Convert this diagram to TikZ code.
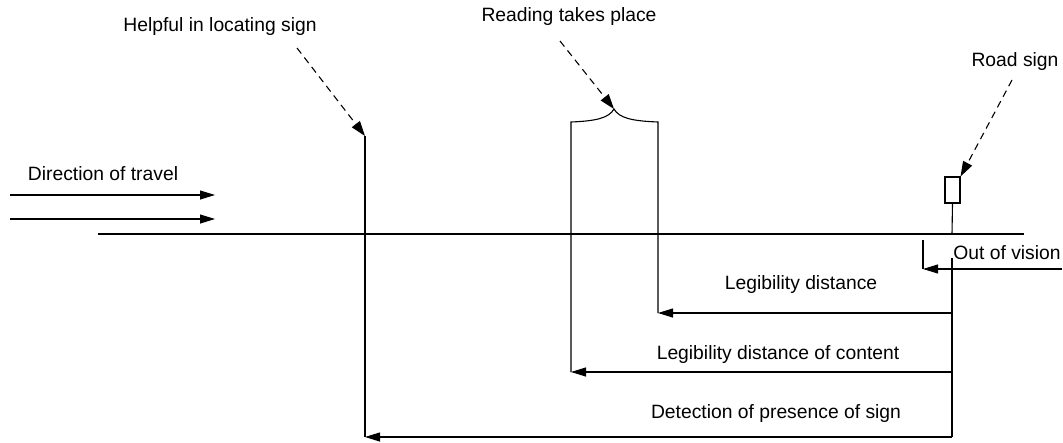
\documentclass[tikz,border=0pt]{standalone}
\usepackage{fontspec}
\setmainfont{Liberation Sans}
\usetikzlibrary{arrows.meta}
\begin{document}
\begin{tikzpicture}[x=1pt,y=-1pt,
  lbl/.style={inner sep=0pt,font=\fontsize{19.3}{23}\selectfont},
  ln/.style={line width=1.1pt,draw=black},
  arr/.style={ln,-{Triangle[length=15pt,width=9pt]}},
  darr/.style={ln,dash pattern=on 7pt off 5pt,-{Triangle[length=15pt,width=10pt]}}]
\useasboundingbox (0,0) rectangle (1063,442);
% labels
\node[lbl] (thelp) at (220,27) {Helpful in locating sign};
\node[lbl] (tread) at (569,17) {Reading takes place};
\node[lbl] (troad) at (1015,62) {Road sign};
\node[lbl] (tdir) at (103,174) {Direction of travel};
\node[lbl] (tout) at (1007,253) {Out of vision};
\node[lbl] (tleg) at (801,285) {Legibility distance};
\node[lbl] (tcont) at (778,355) {Legibility distance of content};
\node[lbl] (tdet) at (776,414) {Detection of presence of sign};
% key points
\coordinate (d1a) at (10,195); \coordinate (d1b) at (215,195);
\coordinate (d2a) at (10,219); \coordinate (d2b) at (215,219);
\coordinate (roadA) at (98,234); \coordinate (roadB) at (1024,234);
\coordinate (helpTop) at (365,136); \coordinate (helpBot) at (365,437);
\coordinate (helpS) at (297,48);
\coordinate (bl) at (571,122); \coordinate (br) at (658,122); \coordinate (btip) at (614,109);
\coordinate (blBot) at (571,372); \coordinate (brBot) at (658,313);
\coordinate (readS) at (560,41);
\coordinate (roadS) at (1012,80);
\coordinate (poleBot) at (952,234);
\coordinate (rvTop) at (952,258); \coordinate (rvBot) at (952,437);
\coordinate (rLeg) at (952,313); \coordinate (rCont) at (952,372);
\coordinate (ovA) at (1062,269); \coordinate (ovB) at (923,269);
\coordinate (ovTop) at (923,240);
% sign
\node[draw,line width=1.1pt,minimum width=15pt,minimum height=26pt,inner sep=0pt] (sign) at (952.5,190) {};
% direction arrows and road
\draw[arr] (d1a) -- (d1b);
\draw[arr] (d2a) -- (d2b);
\draw[ln] (roadA) -- (roadB);
% pole
\draw[ln] (sign.south) -- (poleBot);
% helpful
\draw[darr] (helpS) -- (helpTop);
\draw[ln] (helpTop) -- (helpBot);
% brace
\draw[ln] (blBot) -- (bl) .. controls (596,121) and (609,118) .. (btip)
  .. controls (619,118) and (632,121) .. (br) -- (brBot);
\draw[darr] (readS) -- (btip);
% road sign pointer
\draw[darr] (roadS) -- (sign.north east);
% out of vision
\draw[ln] (ovTop) -- (ovB);
\draw[arr] (ovA) -- (ovB);
% right vertical and distance arrows
\draw[ln] (rvTop) -- (rvBot);
\draw[arr] (rLeg) -- (brBot);
\draw[arr] (rCont) -- (blBot);
\draw[arr] (rvBot) -- (helpBot);
\end{tikzpicture}
\end{document}
